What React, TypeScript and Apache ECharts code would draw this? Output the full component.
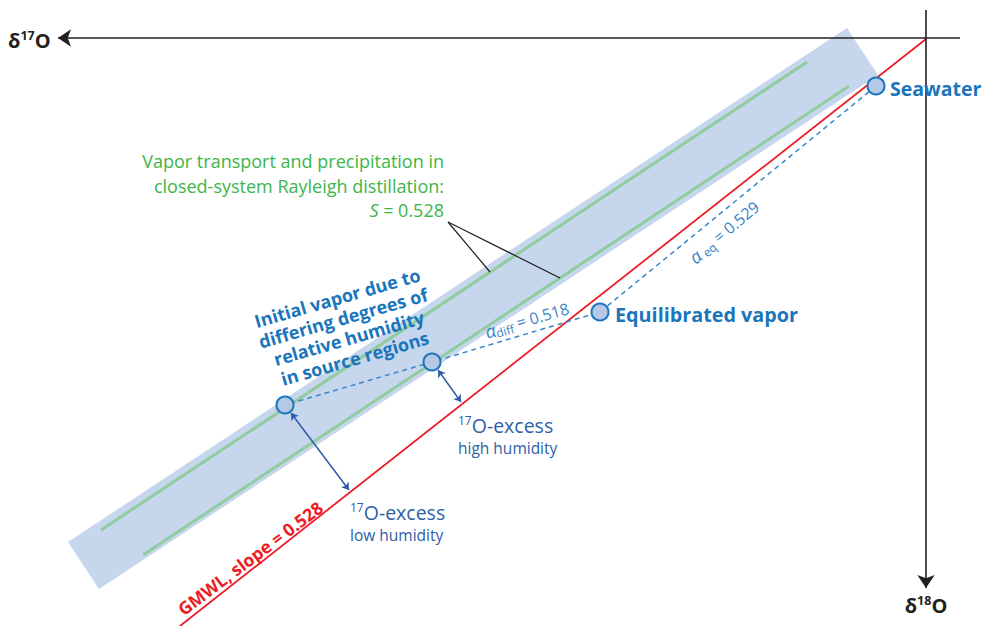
import React, { useEffect, useRef } from "react";
import * as echarts from "echarts";

// Data space: origin at the crossing of the two axes, x to the right, y upward (schematic units).
const gmwl = [[0, -1], [-746, -588]];
const rayleighUpper = [[-825, -492], [-119, -24]];
const rayleighLower = [[-783, -517], [-77, -48]];
const bandCorners = [[-858, -504], [-79, 10], [-48, -37], [-827, -551]];
const pointNames = ["Seawater", "Equilibrated vapor", "Initial vapor (high humidity)", "Initial vapor (low humidity)"];
const pointX = [-50, -326, -494, -641];
const pointY = [-48, -274, -324, -367];
const excessHigh = [[-488, -332], [-465, -364]];
const excessLow = [[-635, -375], [-577, -452]];
const leaderA = [[-478, -184], [-436, -234]];
const leaderB = [[-478, -184], [-366, -240]];
const axisH = [[34, 0], [-868, 0]];
const axisV = [[0, 28], [0, -550]];

const FONT = "'Open Sans', 'Noto Sans', sans-serif";
const BLUE = "#1b75bb";
const DARKBLUE = "#2e5da8";
const LIGHTBLUE = "#3a86c8";
const GREEN = "#3db549";
const RED = "#ed1c24";

type Ann = {
  x: number;
  y: number;
  rot: number;
  text: string;
  align: string;
  vAlign: string;
  fill: string;
  rich: Record<string, any>;
};

const sup = (size: number, color: string, weight = "normal") => ({
  fontSize: size,
  fontFamily: FONT,
  fontWeight: weight,
  fill: color,
  verticalAlign: "top",
});
const txt = (size: number, color: string, weight = "normal", lh = size + 3, style = "normal") => ({
  fontSize: size,
  fontFamily: FONT,
  fontWeight: weight,
  fontStyle: style,
  fill: color,
  lineHeight: lh,
});

const annotations: Ann[] = [
  {
    x: -918, y: -2, rot: 0, align: "left", vAlign: "middle", fill: "#231f20",
    text: "{d|δ}{s|17}{d|O}",
    rich: { d: txt(20, "#231f20", "bold", 23), s: sup(12.5, "#231f20", "bold") },
  },
  {
    x: 0, y: -567, rot: 0, align: "center", vAlign: "middle", fill: "#231f20",
    text: "{d|δ}{s|18}{d|O}",
    rich: { d: txt(20, "#231f20", "bold", 23), s: sup(12.5, "#231f20", "bold") },
  },
  {
    x: -36, y: -50, rot: 0, align: "left", vAlign: "middle", fill: BLUE,
    text: "{b|Seawater}", rich: { b: txt(19.5, BLUE, "bold") },
  },
  {
    x: -311, y: -276, rot: 0, align: "left", vAlign: "middle", fill: BLUE,
    text: "{b|Equilibrated vapor}", rich: { b: txt(19.8, BLUE, "bold") },
  },
  {
    x: -399, y: -282, rot: 16, align: "center", vAlign: "middle", fill: LIGHTBLUE,
    text: "{a|α}{u|diff}{n| = 0.518}",
    rich: {
      a: txt(18, LIGHTBLUE, "normal", 21, "italic"),
      u: { fontSize: 12, fontFamily: FONT, fill: LIGHTBLUE, verticalAlign: "bottom" },
      n: txt(16, LIGHTBLUE, "normal", 21),
    },
  },
  {
    x: -202, y: -194, rot: 40, align: "center", vAlign: "middle", fill: LIGHTBLUE,
    text: "{a|α}{u| eq}{n| = 0.529}",
    rich: {
      a: txt(18, LIGHTBLUE, "normal", 21, "italic"),
      u: { fontSize: 12, fontFamily: FONT, fill: LIGHTBLUE, verticalAlign: "bottom" },
      n: txt(16, LIGHTBLUE, "normal", 21),
    },
  },
  {
    x: -482, y: -111, rot: 0, align: "right", vAlign: "top", fill: GREEN,
    text: "{n|Vapor transport and precipitation in}\n{n|closed-system Rayleigh distillation:}\n{i|S}{n| = 0.528}",
    rich: { n: txt(18, GREEN, "normal", 24.5), i: txt(18, GREEN, "normal", 24.5, "italic") },
  },
  {
    x: -580, y: -290, rot: 16, align: "center", vAlign: "middle", fill: BLUE,
    text: "{b|Initial vapor due to}\n{b|differing degrees of}\n{b|relative humidity}\n{b|in source regions}",
    rich: { b: txt(18, BLUE, "bold", 21) },
  },
  {
    x: -468, y: -387, rot: 0, align: "left", vAlign: "middle", fill: DARKBLUE,
    text: "{s|17}{n|O-excess}",
    rich: { s: sup(12, DARKBLUE), n: txt(19.5, DARKBLUE, "normal", 22) },
  },
  {
    x: -468, y: -410, rot: 0, align: "left", vAlign: "middle", fill: DARKBLUE,
    text: "{h|high humidity}",
    rich: { h: txt(15.5, DARKBLUE, "normal", 18) },
  },
  {
    x: -576, y: -474, rot: 0, align: "left", vAlign: "middle", fill: DARKBLUE,
    text: "{s|17}{n|O-excess}",
    rich: { s: sup(12, DARKBLUE), n: txt(19.5, DARKBLUE, "normal", 22) },
  },
  {
    x: -576, y: -497, rot: 0, align: "left", vAlign: "middle", fill: DARKBLUE,
    text: "{h|low humidity}",
    rich: { h: txt(15.5, DARKBLUE, "normal", 18) },
  },
  {
    x: -676, y: -520, rot: 37, align: "center", vAlign: "middle", fill: RED,
    text: "{b|GMWL, slope = 0.528}", rich: { b: txt(17.5, RED, "bold") },
  },
];

export default function App() {
  const ref = useRef<HTMLDivElement>(null);

  useEffect(() => {
    if (!ref.current) return;
    const chart = echarts.init(ref.current, null, { renderer: "svg" });
    const points = pointX.map((x, i) => ({ name: pointNames[i], value: [x, pointY[i]] }));
    const dashedPath = pointX.map((x, i) => [x, pointY[i]]);

    const option: any = {
      animation: false,
      backgroundColor: "#ffffff",
      grid: { left: 0, right: 0, top: 0, bottom: 0 },
      xAxis: { type: "value", min: -926, max: 58, show: false },
      yAxis: { type: "value", min: -588, max: 38, show: false },
      series: [
        {
          type: "custom",
          z: 1,
          silent: true,
          clip: false,
          data: [bandCorners[0]],
          renderItem: (params: any, api: any) => ({
            type: "polygon",
            shape: { points: bandCorners.map((c) => api.coord(c)) },
            style: { fill: "#c6d6ed" },
          }),
        },
        {
          type: "line", z: 2, silent: true, showSymbol: false, symbol: "none",
          data: rayleighUpper, lineStyle: { color: "#90cc9e", width: 3 },
        },
        {
          type: "line", z: 2, silent: true, showSymbol: false, symbol: "none",
          data: rayleighLower, lineStyle: { color: "#90cc9e", width: 3 },
        },
        {
          type: "line", z: 3, silent: true, showSymbol: false, symbol: "none",
          data: gmwl, lineStyle: { color: RED, width: 1.8 },
        },
        {
          type: "line", z: 3, silent: true, showSymbol: false, symbol: "none",
          data: dashedPath, lineStyle: { color: "#3a86c8", width: 1.5, type: [5, 4] },
        },
        {
          type: "lines", coordinateSystem: "cartesian2d", z: 3, silent: true,
          symbol: ["none", "none"],
          lineStyle: { color: "#231f20", width: 1.2, opacity: 1 },
          data: [{ coords: leaderA }, { coords: leaderB }],
        },
        {
          type: "lines", coordinateSystem: "cartesian2d", z: 4, silent: true,
          symbol: ["arrow", "arrow"], symbolSize: 7,
          lineStyle: { color: DARKBLUE, width: 1.5, opacity: 1 },
          data: [{ coords: excessHigh }, { coords: excessLow }],
        },
        {
          type: "lines", coordinateSystem: "cartesian2d", z: 4, silent: true,
          symbol: ["none", "arrow"], symbolSize: 13,
          lineStyle: { color: "#231f20", width: 1.6, opacity: 1 },
          data: [{ coords: axisH }, { coords: axisV }],
        },
        {
          type: "scatter", z: 5, silent: true,
          symbol: "circle", symbolSize: 17,
          itemStyle: { color: "#b5c9e7", borderColor: BLUE, borderWidth: 2, opacity: 1 },
          data: points,
        },
        {
          type: "custom",
          z: 6,
          silent: true,
          clip: false,
          data: annotations.map((a) => [a.x, a.y]),
          renderItem: (params: any, api: any) => {
            const a = annotations[params.dataIndex];
            const p = api.coord([a.x, a.y]);
            return {
              type: "text",
              x: p[0],
              y: p[1],
              rotation: (a.rot * Math.PI) / 180,
              style: {
                text: a.text,
                rich: a.rich,
                fill: a.fill,
                fontFamily: FONT,
                align: a.align,
                verticalAlign: a.vAlign,
              },
            };
          },
        },
      ],
    };
    chart.setOption(option);
    return () => chart.dispose();
  }, []);

  return (
    <div
      ref={ref}
      style={{ position: "fixed", left: 0, top: 0, width: 984, height: 626, background: "#fff" }}
    />
  );
}
